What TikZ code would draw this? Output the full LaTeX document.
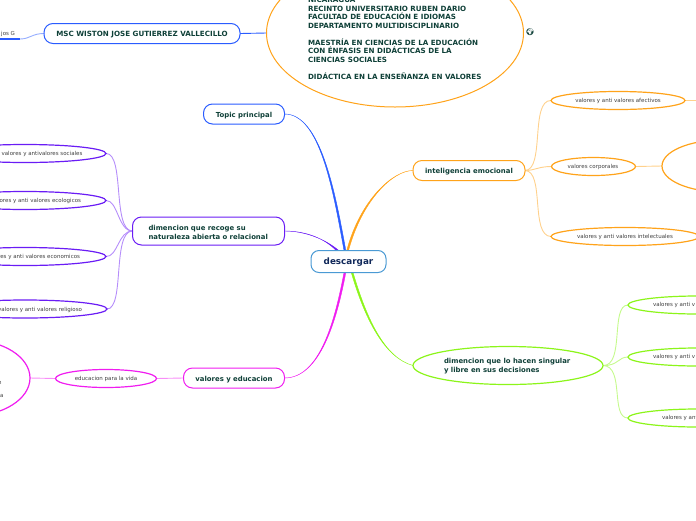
\documentclass[tikz,border=0pt]{standalone}
\usepackage{fontspec}
\setmainfont{DejaVu Sans}
\newfontfamily\emojifont{Noto Emoji}
\usetikzlibrary{shapes.geometric}
\definecolor{txtg}{HTML}{0F4038}
\definecolor{txtn}{HTML}{10285A}
\definecolor{cblue}{HTML}{2A5CFF}
\definecolor{cpur}{HTML}{6A1CF5}
\definecolor{cpink}{HTML}{F01CF0}
\definecolor{corg}{HTML}{FFA31A}
\definecolor{cgrn}{HTML}{8CF51A}
\definecolor{croot}{HTML}{4A9AD4}
\pgfdeclarelayer{back}
\pgfsetlayers{back,main}
\newcommand{\shiftline}{\rule{0pt}{8pt}}
\tikzset{
 every node/.style={inner sep=0pt,outer sep=0pt},
 topicbox/.style={draw=#1,line width=1pt,fill=white,rounded corners=9pt,text=txtg,font=\fontsize{6.9}{9}\selectfont\bfseries,align=left},
 capsbox/.style={topicbox=#1,font=\fontsize{7.15}{9}\selectfont\bfseries},
 oval/.style={draw=#1,line width=1.2pt,fill=white,ellipse},
 leaf/.style={text=black!75,font=\fontsize{5.5}{7}\selectfont},
 branch/.style={draw=#1,fill=#1,line width=.4pt},
 twig/.style={draw=#1!50,line width=.9pt},
 bigt/.style={text=txtg,font=\fontsize{6.9}{9}\selectfont\bfseries,align=left},
 capst/.style={text=txtg,font=\fontsize{7.15}{8.5}\selectfont\bfseries,align=left,anchor=north west},
}
\begin{document}
\begin{tikzpicture}[x=1pt,y=-1pt]
\useasboundingbox (0,0) rectangle (696,520);
\clip (0,0) rectangle (696,520);
\coordinate (rb) at (345,251);
\coordinate (ro) at (347.5,251);
\coordinate (rp) at (338,251);
\coordinate (rk) at (345,272);
\coordinate (rg) at (352,272);
\node[draw=corg,line width=1pt,fill=white,ellipse,minimum width=257pt,minimum height=148pt] (bigtop) at (395,33) {};
\node[capsbox=cblue,minimum width=196pt,minimum height=20pt] (msc) at (142,33.5) {\shiftline MSC WISTON JOSE GUTIERREZ VALLECILLO};
\coordinate (jos) at (0,39);
\coordinate (josb) at (20,39);
\node[leaf,anchor=east] (joslab) at (15,34) {jos G};
\node[topicbox=cblue,minimum width=81pt,minimum height=20pt] (topic) at (244,114) {\shiftline Topic principal};
\node[topicbox=cpur,minimum width=152pt,minimum height=28pt,text width=120pt] (dim1) at (208.5,231) {\shiftline dimencion que recoge su\\naturaleza abierta o relacional};
\node[topicbox=cpink,minimum width=101pt,minimum height=20pt] (valed) at (234,378) {\shiftline valores y educacion};
\node[topicbox=corg,minimum width=112pt,minimum height=20pt] (intel) at (469,170.5) {\shiftline inteligencia emocional};
\node[oval=cgrn,minimum width=190pt,minimum height=38pt] (dim2) at (508,365.5) {};
\node[bigt,anchor=west] (dim2t) at (444,366.3) {dimencion que lo hacen singular\\y libre en sus decisiones};
\node[draw=croot,line width=1pt,fill=white,rounded corners=8pt,minimum width=75pt,minimum height=22pt,text=txtn,font=\fontsize{8.8}{9}\selectfont\bfseries] (root) at (348.5,261.5) {\rule{0pt}{8.5pt}descargar};
% purple leaves
\node[oval=cpur,minimum width=162pt,minimum height=18pt] (p1) at (25,153.5) {};
\node[leaf] (p1t) at (42,154.2) {valores y antivalores sociales};
\node[oval=cpur,minimum width=162pt,minimum height=18pt] (p2) at (25,200.5) {};
\node[leaf,anchor=east] (p2t) at (81,201.2) {valores y anti valores ecologicos};
\node[oval=cpur,minimum width=162pt,minimum height=18pt] (p3) at (25,256.5) {};
\node[leaf,anchor=east] (p3t) at (80,257.2) {valores y anti valores economicos};
\node[oval=cpur,minimum width=164pt,minimum height=18pt] (p4) at (25,309) {};
\node[leaf,anchor=east] (p4t) at (82,309.7) {valores y anti valores religioso};
% pink
\node[draw=cpink,line width=1.2pt,fill=white,ellipse,minimum width=120pt,minimum height=76pt] (pbig) at (-30,378) {};
\node[leaf,anchor=east] (pn) at (1.5,382.5) {n};
\node[leaf,anchor=east] (pa) at (3.5,395.5) {a};
\node[oval=cpink,minimum width=101pt,minimum height=18pt] (edu) at (106,378.5) {};
\node[leaf] (edut) at (106,379.2) {educacion para la vida};
% orange leaves
\node[oval=corg,minimum width=134pt,minimum height=18pt] (o1) at (618,100.5) {};
\node[leaf] (o1t) at (618,101.2) {valores y anti valores afectivos};
\node[oval=corg,minimum width=84pt,minimum height=18pt] (o2) at (593.5,166.5) {};
\node[leaf] (o2t) at (593,167.2) {valores corporales};
\node[oval=corg,minimum width=148pt,minimum height=18pt] (o3) at (625,236.5) {};
\node[leaf] (o3t) at (625,237.2) {valores y anti valores intelectuales};
\node[draw=corg,line width=1.2pt,fill=white,ellipse,minimum width=120pt,minimum height=52pt] (obig) at (722,166) {};
\coordinate (o1r) at (696,100.5);
% green leaves
\node[oval=cgrn,minimum width=140pt,minimum height=18pt] (g1) at (698,305) {};
\node[leaf,anchor=west] (g1t) at (653,305.2) {valores y anti v};
\node[oval=cgrn,minimum width=140pt,minimum height=18pt] (g2) at (698,357) {};
\node[leaf,anchor=west] (g2t) at (653,357.2) {valores y anti v};
\node[oval=cgrn,minimum width=140pt,minimum height=18pt] (g3) at (698,418) {};
\node[leaf,anchor=west] (g3t) at (662,418.2) {valores y ant};
% text of big ellipse
\node[capst] (bigt) at (308,-2.4) {NICARAGUA\\RECINTO UNIVERSITARIO RUBEN DARIO\\FACULTAD DE EDUCACIÓN E IDIOMAS\\DEPARTAMENTO MULTIDISCIPLINARIO\\[8.5pt]MAESTRÍA EN CIENCIAS DE LA EDUCACIÓN\\CON ÉNFASIS EN DIDÁCTICAS DE LA\\CIENCIAS SOCIALES\\[8.5pt]DIDÁCTICA EN LA ENSEÑANZA EN VALORES};
\node[text=txtg,font=\fontsize{7}{7}\selectfont\emojifont] (globe) at (530,32.5) {\char"1F30D};
% connectors
\begin{pgfonlayer}{back}
\draw[branch=cblue] (topic.east) .. controls (320,114) and (333,190) .. ([xshift=-.9pt]rb) -- ([xshift=.9pt]rb) .. controls (335,190) and (320,114) .. (topic.east);
\draw[branch=corg] (intel.west) .. controls (393,170.5) and (360,200) .. ([xshift=-.9pt]ro) -- ([xshift=.9pt]ro) .. controls (362,200) and (393,170.5) .. (intel.west);
\draw[branch=cpur] (dim1.east) .. controls (305,231) and (325,238) .. ([xshift=-.8pt,yshift=-.6pt]rp) -- ([xshift=.6pt,yshift=.6pt]rp) .. controls (325,239) and (305,231) .. (dim1.east);
\draw[branch=cpink] (valed.east) .. controls (320,378) and (335,320) .. ([xshift=-.9pt]rk) -- ([xshift=.9pt]rk) .. controls (337,320) and (320,378) .. (valed.east);
\draw[branch=cgrn] (dim2.west) .. controls (385,358) and (365,320) .. ([xshift=-.9pt]rg) -- ([xshift=.9pt]rg) .. controls (367,320) and (385,358) .. (dim2.west);
\draw[draw=cblue,line width=.9pt] (msc.east) -- (bigtop.west);
\draw[twig=cblue] (msc.west) .. controls (32,33.5) and (30,39) .. (josb);
\draw[draw=cblue,line width=1.2pt] (josb) -- (jos);
\draw[twig=cpur] (p1.east) .. controls (125,153) and (112,231) .. (dim1.west);
\draw[twig=cpur] (p2.east) .. controls (118,200) and (118,231) .. (dim1.west);
\draw[twig=cpur] (p3.east) .. controls (118,257) and (118,231) .. (dim1.west);
\draw[twig=cpur] (p4.east) .. controls (125,309) and (112,231) .. (dim1.west);
\draw[twig=cpink] (pbig.east) -- (edu.west);
\draw[twig=cpink] (edu.east) -- (valed.west);
\draw[twig=corg] (intel.east) .. controls (545,170) and (530,100) .. (o1.west);
\draw[twig=corg] (intel.east) .. controls (535,170.5) and (538,166.5) .. (o2.west);
\draw[twig=corg] (intel.east) .. controls (545,171) and (530,236) .. (o3.west);
\draw[twig=corg] (o2.east) -- (obig.west);
\draw[twig=corg] (o1.east) -- (o1r);
\draw[twig=cgrn] (dim2.east) .. controls (625,366) and (610,305) .. (g1.west);
\draw[twig=cgrn] (dim2.east) .. controls (618,366) and (618,357) .. (g2.west);
\draw[twig=cgrn] (dim2.east) .. controls (625,366) and (610,418) .. (g3.west);
\end{pgfonlayer}
\end{tikzpicture}
\end{document}
